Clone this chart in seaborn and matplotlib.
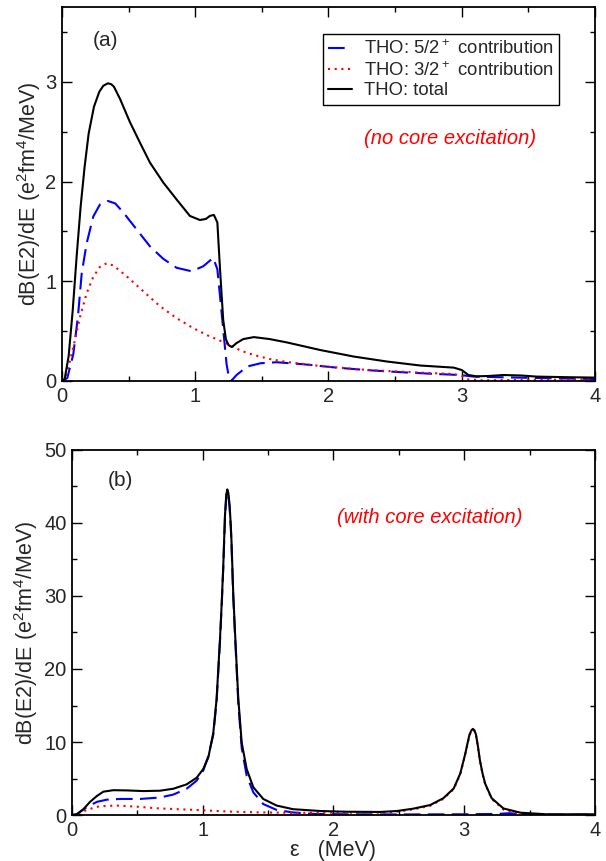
import matplotlib
matplotlib.use("Agg")
import matplotlib.pyplot as plt
from matplotlib.ticker import MultipleLocator
import seaborn as sns

sns.set_theme(style="ticks")
plt.rcParams['font.family'] = ['Liberation Sans', 'DejaVu Sans']
plt.rcParams['mathtext.default'] = 'regular'
fontsize = 14.5

# panel (a): no core excitation
xa_tot = [0, 0.02, 0.05, 0.08, 0.11, 0.14, 0.17, 0.20, 0.24, 0.28,
          0.31, 0.345, 0.37, 0.39, 0.435, 0.51, 0.585, 0.66, 0.76, 0.86,
          0.96, 1.035, 1.08, 1.11, 1.14, 1.166, 1.186, 1.21, 1.23, 1.25,
          1.275, 1.31, 1.36, 1.44, 1.56, 1.69, 1.94, 2.19, 2.44, 2.69,
          2.94, 3.0, 3.05, 3.11, 3.2, 3.31, 3.45, 3.56, 3.8, 4.0]
ya_tot = [0, 0.02, 0.25, 0.7, 1.25, 1.75, 2.15, 2.48, 2.75, 2.90,
          2.96, 2.985, 2.975, 2.95, 2.83, 2.595, 2.39, 2.19, 1.99, 1.82,
          1.655, 1.614, 1.625, 1.655, 1.665, 1.59, 1.12, 0.61, 0.42, 0.36,
          0.34, 0.38, 0.42, 0.44, 0.42, 0.386, 0.31, 0.245, 0.195, 0.155,
          0.134, 0.11, 0.06, 0.047, 0.05, 0.06, 0.055, 0.044, 0.038, 0.034]
xa_52 = [0, 0.04, 0.085, 0.12, 0.148, 0.185, 0.235, 0.285, 0.345, 0.40,
         0.46, 0.56, 0.66, 0.76, 0.86, 0.973, 1.06, 1.135, 1.166, 1.186,
         1.215, 1.235, 1.255, 1.27, 1.31, 1.39, 1.49, 1.61, 1.81, 2.06,
         2.31, 2.56, 2.81, 2.99, 3.05, 3.09, 3.31, 3.69, 4.0]
ya_52 = [0, 0.03, 0.27, 0.65, 1.08, 1.38, 1.65, 1.77, 1.805, 1.78,
         1.69, 1.52, 1.35, 1.225, 1.135, 1.10, 1.15, 1.235, 1.12, 0.85,
         0.45, 0.17, 0.02, 0.0, 0.06, 0.145, 0.178, 0.188, 0.168, 0.134,
         0.107, 0.087, 0.07, 0.06, 0.05, 0.044, 0.037, 0.027, 0.02]
xa_32 = [0, 0.035, 0.085, 0.135, 0.185, 0.235, 0.285, 0.335, 0.385, 0.485,
         0.61, 0.735, 0.86, 0.985, 1.11, 1.16, 1.285, 1.34, 1.44, 1.56,
         1.69, 1.94, 2.19, 2.44, 2.69, 2.94, 3.0, 3.04, 3.14, 3.44, 3.99]
ya_32 = [0, 0.07, 0.34, 0.64, 0.88, 1.045, 1.145, 1.18, 1.158, 1.05,
         0.90, 0.75, 0.63, 0.53, 0.446, 0.42, 0.346, 0.305, 0.26, 0.22,
         0.19, 0.15, 0.12, 0.10, 0.084, 0.07, 0.05, 0.017, 0.007, 0.01, 0.017]

# panel (b): with core excitation
xb_tot = [0, 0.036, 0.087, 0.138, 0.19, 0.24, 0.316, 0.42, 0.546, 0.673,
          0.775, 0.877, 0.953, 1.004, 1.043, 1.081, 1.106, 1.132, 1.145, 1.157,
          1.17, 1.18, 1.188, 1.196, 1.206, 1.215, 1.22, 1.233, 1.247, 1.272,
          1.298, 1.336, 1.387, 1.463, 1.565, 1.69, 1.90, 2.1, 2.357, 2.485,
          2.61, 2.74, 2.84, 2.92, 2.97, 3.008, 3.025, 3.04, 3.055, 3.066,
          3.078, 3.09, 3.105, 3.12, 3.14, 3.16, 3.21, 3.30, 3.43, 3.63,
          3.89, 4.0]
yb_tot = [0, 0.1, 0.8, 1.8, 2.6, 3.2, 3.4, 3.37, 3.28, 3.33,
          3.6, 4.2, 5.1, 6.3, 7.9, 11.3, 15.9, 24.1, 29.0, 34.1,
          41.0, 43.9, 44.6, 44.1, 42.3, 39.5, 37.5, 30.5, 25.0, 15.9,
          9.9, 6.3, 3.8, 2.2, 1.3, 0.8, 0.55, 0.45, 0.42, 0.55,
          0.87, 1.37, 2.3, 3.65, 5.7, 8.4, 9.8, 11.0, 11.6, 11.8,
          11.6, 11.0, 9.4, 7.5, 5.7, 4.3, 2.3, 0.9, 0.32, 0.1,
          0.1, 0.1]
xb_52 = [0, 0.036, 0.11, 0.19, 0.265, 0.367, 0.52, 0.673, 0.775, 0.877,
         0.953, 1.004, 1.043, 1.081, 1.106, 1.132, 1.145, 1.157, 1.17, 1.18,
         1.188, 1.196, 1.206, 1.215, 1.22, 1.233, 1.247, 1.272, 1.298, 1.336,
         1.387, 1.463, 1.565, 1.69, 1.85, 2.1, 2.5, 3.0, 3.25, 3.35,
         3.45, 3.7, 4.0]
yb_52 = [0, 0.09, 1.05, 1.8, 2.1, 2.2, 2.2, 2.4, 2.8, 3.6,
         4.7, 6.1, 8.1, 11.0, 15.6, 23.8, 28.7, 33.8, 40.7, 43.6,
         44.3, 43.8, 42.0, 39.2, 37.1, 30.0, 24.5, 15.3, 9.2, 5.4,
         3.1, 1.5, 0.7, 0.35, 0.15, 0.1, 0.08, 0.1, 0.15, 0.25,
         0.1, 0.05, 0.05]
xb_32 = [0, 0.05, 0.11, 0.21, 0.34, 0.49, 0.67, 0.877, 1.0, 1.23,
         1.44, 1.69, 2.0, 2.357, 2.485, 2.61, 2.74, 2.84, 2.92, 2.97,
         3.008, 3.025, 3.04, 3.055, 3.066, 3.078, 3.09, 3.105, 3.12, 3.14,
         3.16, 3.21, 3.30, 3.43, 3.63, 3.89, 4.0]
yb_32 = [0, 0.05, 0.7, 1.2, 1.3, 1.15, 0.9, 0.75, 0.65, 0.45,
         0.36, 0.3, 0.33, 0.32, 0.45, 0.77, 1.27, 2.2, 3.55, 5.6,
         8.3, 9.7, 10.9, 11.5, 11.7, 11.5, 10.9, 9.3, 7.4, 5.6,
         4.2, 2.2, 0.75, 0.15, 0.0, 0.0, 0.0]

labels = ['THO: 5/2$^+$ contribution', 'THO: 3/2$^+$ contribution', 'THO: total']
ylabel = 'dB(E2)/dE (e$^2$fm$^4$/MeV)'

fig = plt.figure(figsize=(6.06, 8.61), dpi=100)
ax1 = fig.add_axes([0.1023, 0.5575, 0.8795, 0.4344])
ax2 = fig.add_axes([0.1188, 0.0534, 0.863, 0.424])

lw = 1.5
dash_blue = (0, (8, 3.5))
dot_red = (0, (1, 2.2))

for ax, data in [(ax1, (xa_52, ya_52, xa_32, ya_32, xa_tot, ya_tot)),
                 (ax2, (xb_52, yb_52, xb_32, yb_32, xb_tot, yb_tot))]:
    x52, y52, x32, y32, xt, yt = data
    sns.lineplot(x=x52, y=y52, ax=ax, color='#0000ff', lw=lw, linestyle=dash_blue,
                 estimator=None, label=labels[0])
    sns.lineplot(x=x32, y=y32, ax=ax, color='#ff0000', lw=lw, linestyle=dot_red,
                 estimator=None, label=labels[1])
    sns.lineplot(x=xt, y=yt, ax=ax, color='black', lw=lw,
                 estimator=None, label=labels[2])
    ax.set_xlim(0, 4)
    ax.xaxis.set_major_locator(MultipleLocator(1))
    ax.xaxis.set_minor_locator(MultipleLocator(0.5))
    ax.tick_params(which='both', direction='in', top=True, right=True,
                   labelsize=fontsize, color='black', width=1.0)
    ax.tick_params(which='major', length=7, pad=4)
    ax.tick_params(which='minor', length=3.6)
    for s in ax.spines.values():
        s.set_linewidth(1.3)
        s.set_color('black')
    ax.set_ylabel(ylabel, fontsize=15.5)

ax1.set_ylim(0, 3.75)
ax1.yaxis.set_major_locator(MultipleLocator(1))
ax1.yaxis.set_minor_locator(MultipleLocator(0.5))
ax1.set_xlabel('')
ax1.yaxis.set_label_coords(-0.036, 0.5)
leg = ax1.legend(loc='upper right', bbox_to_anchor=(0.9325, 0.928), borderaxespad=0,
                 fontsize=13.3, frameon=True, fancybox=False, edgecolor='black',
                 handlelength=1.3, handletextpad=0.6, labelspacing=0.15,
                 borderpad=0.3, framealpha=1)
leg.get_frame().set_linewidth(1.0)
ax1.text(0.23, 3.41, '(a)', fontsize=15, va='center', ha='left')
ax1.text(2.91, 2.43, '(no core excitation)', fontsize=fontsize, color='red',
         style='italic', ha='center', va='center')

ax2.set_ylim(0, 50)
ax2.yaxis.set_major_locator(MultipleLocator(10))
ax2.yaxis.set_minor_locator(MultipleLocator(5))
ax2.get_legend().remove()
ax2.yaxis.set_label_coords(-0.061, 0.5)
ax2.set_xlabel('ε   (MeV)', fontsize=15.5, labelpad=0)
ax2.text(0.275, 45.75, '(b)', fontsize=15, va='center', ha='left')
ax2.text(2.74, 40.7, '(with core excitation)', fontsize=fontsize, color='red',
         style='italic', ha='center', va='center')

plt.savefig('out.png', dpi=100)
